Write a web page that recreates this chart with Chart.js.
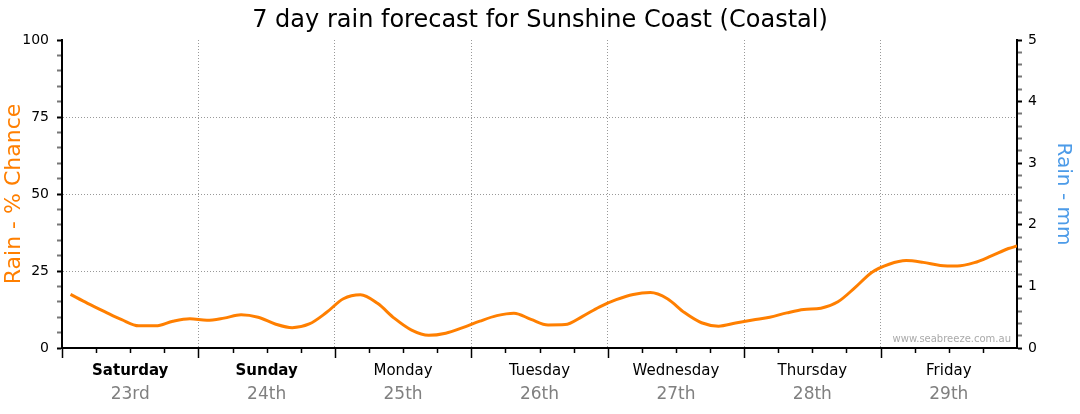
<!DOCTYPE html>
<html lang="en">
<head>
<meta charset="UTF-8">
<title>7 day rain forecast for Sunshine Coast (Coastal)</title>
<script src="https://cdn.jsdelivr.net/npm/chart.js"></script>
<style>
  html,body{margin:0;padding:0;background:#fff}
  #wrap{width:1080px;height:414px;position:relative}
</style>
</head>
<body>
<div id="wrap"><canvas id="chart"></canvas></div>
<script>
// hours from the start of Saturday, one point every 3 hours
const hours=[1.5,4.5,7.5,10.5,13.5,16.5,19.5,22.5,25.5,28.5,31.5,34.5,37.5,40.5,43.5,46.5,
  49.5,52.5,55.5,58.5,61.5,64.5,67.5,70.5,73.5,76.5,79.5,82.5,85.5,88.5,91.5,94.5,
  97.5,100.5,103.5,106.5,109.5,112.5,115.5,118.5,121.5,124.5,127.5,130.5,133.5,136.5,139.5,142.5,
  145.5,148.5,151.5,154.5,157.5,160.5,163.5,166.5,168];
const rainChance=[17.4,14.5,11.8,9.2,7.2,7.2,8.7,9.5,9.0,9.7,10.8,10.0,7.8,6.6,7.8,11.5,
  16.0,17.3,14.5,9.6,5.8,4.1,4.8,6.6,8.7,10.5,11.3,9.3,7.5,7.6,10.2,13.3,
  15.7,17.4,18.0,16.0,11.5,8.2,7.1,8.1,9.1,10.0,11.4,12.5,12.9,15.0,19.6,24.6,
  27.2,28.4,27.8,26.8,26.6,27.7,29.9,32.3,33.1];
const dayNames=['Saturday','Sunday','Monday','Tuesday','Wednesday','Thursday','Friday'];
const dayDates=['23rd','24th','25th','26th','27th','28th','29th'];
const weekend=['Saturday','Sunday'];

const titleText='7 day rain forecast for Sunshine Coast (Coastal)';
const leftTitle='Rain - % Chance';
const rightTitle='Rain - mm';
const orange='#ff7f00';
const blue='#4c9be8';
const FONT='"DejaVu Sans", Verdana, sans-serif';

const extras={
  id:'extras',
  afterDraw(c){
    const ctx=c.ctx, x=c.scales.x, a=c.chartArea;
    ctx.save();
    // title
    ctx.fillStyle='#000';
    ctx.font='24px '+FONT;
    ctx.textAlign='center';
    ctx.textBaseline='alphabetic';
    ctx.fillText(titleText,540,27);
    // x tick marks
    ctx.strokeStyle='#000';
    ctx.lineWidth=1.5;
    ctx.setLineDash([]);
    for(let h=0;h<168;h+=6){
      const px=Math.round(x.getPixelForValue(h))+0.5;
      const len=h%24===0?10:5;
      ctx.beginPath();ctx.moveTo(px,a.bottom);ctx.lineTo(px,a.bottom+len);ctx.stroke();
    }
    // day labels
    dayNames.forEach((d,i)=>{
      const px=x.getPixelForValue(i*24+12);
      ctx.fillStyle='#000';
      ctx.font=(weekend.includes(d)?'bold ':'')+'15px '+FONT;
      ctx.fillText(d,px,375);
      ctx.fillStyle='#808080';
      ctx.font='17px '+FONT;
      ctx.fillText(dayDates[i],px,399);
    });
    // axis titles
    ctx.save();
    ctx.translate(20,194);
    ctx.rotate(-Math.PI/2);
    ctx.fillStyle=orange;
    ctx.font='22px '+FONT;
    ctx.fillText(leftTitle,0,0);
    ctx.restore();
    ctx.save();
    ctx.translate(1058,194);
    ctx.rotate(Math.PI/2);
    ctx.fillStyle=blue;
    ctx.font='20px '+FONT;
    ctx.fillText(rightTitle,0,0);
    ctx.restore();
    // watermark
    ctx.fillStyle='#aaa';
    ctx.font='10px '+FONT;
    ctx.textAlign='right';
    ctx.fillText('www.seabreeze.com.au',1011,342);
    ctx.restore();
  }
};

new Chart(document.getElementById('chart'),{
  type:'line',
  data:{datasets:[{
    data:hours.map((h,i)=>({x:h,y:rainChance[i]})),
    borderColor:orange,
    borderWidth:3,
    pointRadius:0,
    fill:false,
    cubicInterpolationMode:'monotone',
    yAxisID:'y'
  }]},
  options:{
    responsive:true,
    maintainAspectRatio:false,
    animation:false,
    layout:{padding:{top:40,left:0,right:0,bottom:0}},
    plugins:{legend:{display:false},tooltip:{enabled:false}},
    scales:{
      x:{
        type:'linear',min:0,max:168,
        ticks:{display:false,stepSize:6},
        border:{display:true,color:'#000',width:2,dash:[1,2]},
        grid:{
          drawTicks:false,
          color:ctx=>(ctx.tick && ctx.tick.value%24===0 && ctx.tick.value>0 && ctx.tick.value<168)?'#999':'rgba(0,0,0,0)',
          lineWidth:1
        },
        afterFit(s){s.height=66;}
      },
      y:{
        position:'left',min:0,max:100,
        ticks:{stepSize:5,autoSkip:false,padding:8,color:'#000',font:{family:FONT,size:14},
          callback:v=>v%25===0?v:''},
        border:{display:true,color:'#000',width:2,dash:[1,2]},
        grid:{
          tickLength:5,
          tickColor:ctx=>ctx.tick.value%25===0?'#000':'#777',
          tickWidth:2,
          tickBorderDash:[],
          color:ctx=>(ctx.tick.value%25===0 && ctx.tick.value>0 && ctx.tick.value<100)?'#999':'rgba(0,0,0,0)',
          lineWidth:1
        },
        afterFit(s){s.width=62;}
      },
      y2:{
        position:'right',min:0,max:5,
        ticks:{stepSize:0.2,autoSkip:false,padding:6,color:'#000',font:{family:FONT,size:14},
          callback:v=>Math.abs(v-Math.round(v))<1e-6?Math.round(v):''},
        border:{display:true,color:'#000',width:2},
        grid:{
          drawOnChartArea:false,
          tickLength:5,
          tickColor:ctx=>Math.abs(ctx.tick.value-Math.round(ctx.tick.value))<1e-6?'#000':'#777',
          tickWidth:2
        },
        afterFit(s){s.width=63;}
      }
    }
  },
  plugins:[extras]
});
</script>
</body>
</html>
